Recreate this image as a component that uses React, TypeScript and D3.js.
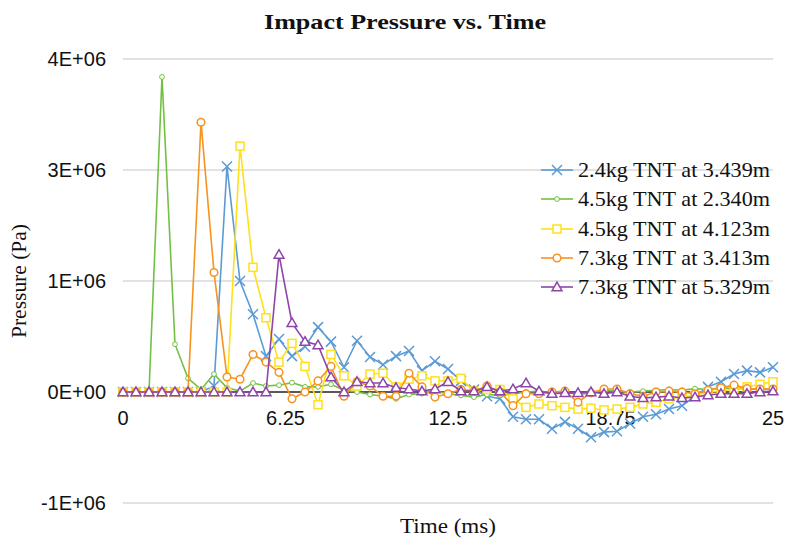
import React from 'react';
import * as d3 from 'd3';

const width = 788;
const height = 547;

// time (ms)
const time = [
  0, 0.5, 1, 1.5, 2, 2.5, 3, 3.5, 4, 4.5, 5, 5.5, 6, 6.5, 7, 7.5, 8, 8.5, 9, 9.5,
  10, 10.5, 11, 11.5, 12, 12.5, 13, 13.5, 14, 14.5, 15, 15.5, 16, 16.5, 17, 17.5,
  18, 18.5, 19, 19.5, 20, 20.5, 21, 21.5, 22, 22.5, 23, 23.5, 24, 24.5, 25,
];

// pressure (Pa)
const tnt24_3439 = [
  0, 0, 0, 0, 0, 0, 0, 0.7e5, 26.4e5, 13.0e5, 9.1e5, 4.2e5, 6.2e5, 4.2e5, 5.3e5, 7.6e5, 5.9e5,
  2.9e5, 6.0e5, 4.1e5, 3.2e5, 4.2e5, 4.8e5, 2.5e5, 3.6e5, 2.7e5, 1.3e5, 0.3e5, -0.5e5, -0.8e5,
  -2.9e5, -3.2e5, -3.2e5, -4.3e5, -3.5e5, -4.3e5, -5.3e5, -4.7e5, -4.6e5, -3.7e5, -2.9e5,
  -2.6e5, -2.0e5, -1.6e5, -0.5e5, 0.6e5, 1.2e5, 2.1e5, 2.5e5, 2.3e5, 2.9e5,
];
const tnt45_2340 = [
  0, 0, 0, 36.9e5, 5.6e5, 1.6e5, 0.3e5, 2.1e5, 0.5e5, 0.1e5, 1.05e5, 0.7e5, 0.8e5, 1.1e5,
  0.6e5, 0.6e5, 0.9e5, 0.2e5, 0, -0.3e5, -0.5e5, -0.8e5, -0.3e5, -0.2e5, 0.1e5, -0.2e5,
  -0.4e5, -0.6e5, -0.3e5, -0.4e5, -0.2e5, 0, 0.1e5, -0.1e5, 0, -0.3e5, -0.1e5, 0.2e5, 0.1e5,
  0, 0.1e5, 0.2e5, 0.3e5, 0.2e5, 0.4e5, 0.3e5, 0.5e5, 0.4e5, 0.4e5, 0.3e5, 0.4e5,
];
const tnt45_4123 = [
  0, 0, 0, 0, 0, 0, 0, 0, 0, 28.8e5, 14.6e5, 8.7e5, 3.5e5, 5.7e5, 3.0e5, -1.5e5, 4.4e5,
  1.9e5, 0.7e5, 2.1e5, 2.2e5, 0.6e5, 1.5e5, 1.9e5, 1.3e5, 1.3e5, 1.6e5, 0.1e5, 0.3e5, 0.3e5,
  -0.8e5, -1.8e5, -1.4e5, -1.6e5, -1.8e5, -2.0e5, -1.9e5, -2.1e5, -2.0e5, -1.8e5, -1.4e5,
  -1.2e5, -0.8e5, -0.6e5, -0.4e5, 0, 0.1e5, 0.35e5, 0.6e5, 0.9e5, 1.2e5,
];
const tnt73_3413 = [
  0, 0, 0, 0, 0, 0, 31.6e5, 14.0e5, 1.75e5, 1.5e5, 4.4e5, 3.5e5, 2.3e5, -0.8e5, 0, 1.3e5,
  3.0e5, -0.5e5, 1.2e5, 0.7e5, -0.5e5, -0.5e5, 2.2e5, 0.6e5, -0.6e5, -0.2e5, 0.3e5, 0.1e5,
  0.7e5, 0, -1.6e5, -0.2e5, -0.2e5, 0, 0.1e5, -1.2e5, -0.1e5, 0.35e5, 0.35e5, -0.2e5, -0.5e5,
  0, 0.1e5, 0, -0.2e5, 0.2e5, 0.5e5, 0.8e5, 0.4e5, 0.35e5, 0.35e5,
];
const tnt73_5329 = [
  0, 0, 0, 0, 0, 0, 0, 0, 0, 0, 0, 0, 16.1e5, 8.1e5, 5.9e5, 5.5e5, 1.75e5, 0, 1.2e5, 1.05e5,
  1.05e5, 0.5e5, 0.35e5, 0.1e5, 0.35e5, 1.2e5, 0.1e5, 0.1e5, 0.6e5, 0.1e5, 0.35e5, 1.05e5,
  0.1e5, -0.2e5, -0.1e5, -0.1e5, 0, -0.2e5, 0, -0.5e5, -0.7e5, -0.6e5, -0.5e5, -0.7e5, -0.6e5,
  -0.35e5, -0.2e5, -0.2e5, -0.2e5, 0, 0.1e5,
];

const seriesNames = [
  '2.4kg TNT at 3.439m',
  '4.5kg TNT at 2.340m',
  '4.5kg TNT at 4.123m',
  '7.3kg TNT at 3.413m',
  '7.3kg TNT at 5.329m',
];
const seriesValues = [tnt24_3439, tnt45_2340, tnt45_4123, tnt73_3413, tnt73_5329];
const seriesColors = ['#5b9bd5', '#74c043', '#ffe01a', '#f7931e', '#8e44a8'];
const seriesMarkers = ['cross', 'smallCircle', 'square', 'circle', 'triangle'];

const xTicks = [0, 6.25, 12.5, 18.75, 25];
const yTicks = [-1.3e6, 0, 1.3e6, 2.6e6, 3.9e6];

const fmtY = (v: number) => {
  if (v === 0) return '0E+00';
  const m = Math.round(Math.abs(v) / 1e6);
  return (v < 0 ? '-' : '') + m + 'E+06';
};

const Marker = ({ kind, x, y, color }: { kind: string; x: number; y: number; color: string }) => {
  if (kind === 'cross') {
    const s = 5;
    return (
      <path
        d={`M${x - s},${y - s}L${x + s},${y + s}M${x - s},${y + s}L${x + s},${y - s}`}
        stroke={color}
        strokeWidth={1.5}
        fill="none"
      />
    );
  }
  if (kind === 'smallCircle') {
    return <circle cx={x} cy={y} r={2.4} fill="#fff" stroke={color} strokeWidth={1} />;
  }
  if (kind === 'circle') {
    return <circle cx={x} cy={y} r={3.8} fill="#fff" stroke={color} strokeWidth={1.5} />;
  }
  if (kind === 'square') {
    return <rect x={x - 4} y={y - 4} width={8} height={8} fill="#fff" stroke={color} strokeWidth={1.5} />;
  }
  const t = d3.symbol(d3.symbolTriangle, 42)() as string;
  return (
    <path d={t} transform={`translate(${x},${y + 0.8})`} fill="#fff" stroke={color} strokeWidth={1.5} />
  );
};

export default function App() {
  const x = d3.scaleLinear().domain([0, 25]).range([123, 773]);
  const y = d3.scaleLinear().domain([-1.3e6, 3.9e6]).range([503, 59]);
  const line = d3
    .line<number>()
    .x((_, i) => x(time[i]))
    .y((d) => y(d));

  const legendY = [170, 199, 229, 258, 287];

  return (
    <svg
      width={width}
      height={height}
      style={{ position: 'absolute', left: 0, top: 0, background: '#fff' }}
    >
      <text
        x={405}
        y={29}
        textAnchor="middle"
        fontFamily="Liberation Serif"
        fontWeight="bold"
        fontSize={22}
        textLength={282}
        lengthAdjust="spacingAndGlyphs"
        fill="#111"
      >
        Impact Pressure vs. Time
      </text>

      {yTicks.map((t) => (
        <g key={t}>
          <line
            x1={x(0)}
            x2={x(25)}
            y1={y(t)}
            y2={y(t)}
            stroke={t === 0 ? '#222' : '#d9d9d9'}
            strokeWidth={1.3}
          />
          <text
            x={106}
            y={y(t)}
            dy="0.35em"
            textAnchor="end"
            fontFamily="Liberation Sans"
            fontSize={20}
            fill="#111"
          >
            {fmtY(t)}
          </text>
        </g>
      ))}

      {xTicks.map((t) => (
        <text
          key={t}
          x={x(t)}
          y={425}
          textAnchor="middle"
          fontFamily="Liberation Sans"
          fontSize={20}
          fill="#111"
        >
          {t}
        </text>
      ))}

      {seriesValues.map((vals, si) => (
        <g key={si}>
          <path d={line(vals) as string} fill="none" stroke={seriesColors[si]} strokeWidth={1.6} />
          {vals.map((v, i) => (
            <Marker key={i} kind={seriesMarkers[si]} x={x(time[i])} y={y(v)} color={seriesColors[si]} />
          ))}
        </g>
      ))}

      {seriesNames.map((name, si) => (
        <g key={name}>
          <line
            x1={541}
            x2={573}
            y1={legendY[si]}
            y2={legendY[si]}
            stroke={seriesColors[si]}
            strokeWidth={1.6}
          />
          <Marker kind={seriesMarkers[si]} x={557} y={legendY[si]} color={seriesColors[si]} />
          <text
            x={578}
            y={legendY[si]}
            dy="0.33em"
            fontFamily="Liberation Serif"
            fontSize={21}
            textLength={192}
            lengthAdjust="spacingAndGlyphs"
            fill="#111"
          >
            {name}
          </text>
        </g>
      ))}

      <text
        transform="translate(26,281) rotate(-90)"
        textAnchor="middle"
        fontFamily="Liberation Serif"
        fontSize={21}
        textLength={114}
        lengthAdjust="spacingAndGlyphs"
        fill="#111"
      >
        Pressure (Pa)
      </text>
      <text
        x={448}
        y={533}
        textAnchor="middle"
        fontFamily="Liberation Serif"
        fontSize={21}
        textLength={96}
        lengthAdjust="spacingAndGlyphs"
        fill="#111"
      >
        Time (ms)
      </text>
    </svg>
  );
}
